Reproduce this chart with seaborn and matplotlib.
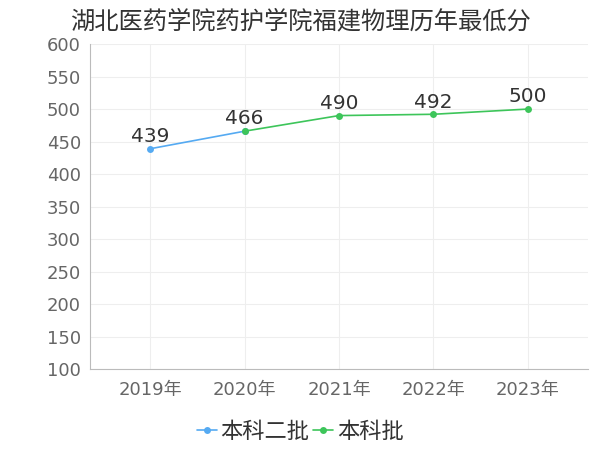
import pandas as pd
import matplotlib.pyplot as plt
import seaborn as sns

# 数据
years = ['2019年', '2020年', '2021年', '2022年', '2023年']
erpi_years = ['2019年', '2020年']
erpi_scores = [439, 466]
benke_years = ['2020年', '2021年', '2022年', '2023年']
benke_scores = [466, 490, 492, 500]

sns.set_style('white')
plt.rcParams['font.family'] = ['DejaVu Sans', 'Noto Sans CJK SC']

pos = {y: i for i, y in enumerate(years)}
df1 = pd.DataFrame({'x': [pos[y] for y in erpi_years], 'y': erpi_scores})
df2 = pd.DataFrame({'x': [pos[y] for y in benke_years], 'y': benke_scores})

fig = plt.figure(figsize=(6, 4.5), dpi=100)
ax = fig.add_axes([0.15, 0.18, 0.83, 0.722])

blue = '#55aaf2'
green = '#3dc55a'
sns.lineplot(data=df1, x='x', y='y', ax=ax, color=blue, marker='o', markersize=5,
             markeredgewidth=0, linewidth=1.2, label='本科二批')
sns.lineplot(data=df2, x='x', y='y', ax=ax, color=green, marker='o', markersize=5,
             markeredgewidth=0, linewidth=1.2, label='本科批')

# 数据标签(重合的点只标一次)
done = set()
for d in (df1, df2):
    for x, y in zip(d['x'], d['y']):
        if (x, y) in done:
            continue
        done.add((x, y))
        ax.annotate(str(y), (x, y), xytext=(0, 2), textcoords='offset points',
                    ha='center', va='bottom', fontsize=14.5, color='#333333')

ax.set_xlim(-0.64, 4.64)
ax.set_ylim(100, 600)
ax.set_yticks(range(100, 601, 50))
ax.set_xticks(range(len(years)))
ax.set_xticklabels(years)
ax.set_xlabel('')
ax.set_ylabel('')
ax.grid(True, color='#eeeeee', linewidth=0.8)
ax.tick_params(axis='both', colors='#aaaaaa', labelcolor='#666666', labelsize=13, length=3)
ax.tick_params(axis='x', pad=6)
for s in ['top', 'right']:
    ax.spines[s].set_visible(False)
for s in ['left', 'bottom']:
    ax.spines[s].set_color('#bbbbbb')

fig.suptitle('湖北医药学院药护学院福建物理历年最低分', x=0.5, y=0.98, fontsize=17.5, color='#333333')
handles, labels = ax.get_legend_handles_labels()
ax.get_legend().remove()
fig.legend(handles, labels, loc='center', bbox_to_anchor=(0.5, 0.04), ncol=2, frameon=False,
           fontsize=16, handlelength=0.9, handletextpad=0.15, columnspacing=0.2,
           labelcolor='#333333')

fig.savefig('out.png', dpi=100)
